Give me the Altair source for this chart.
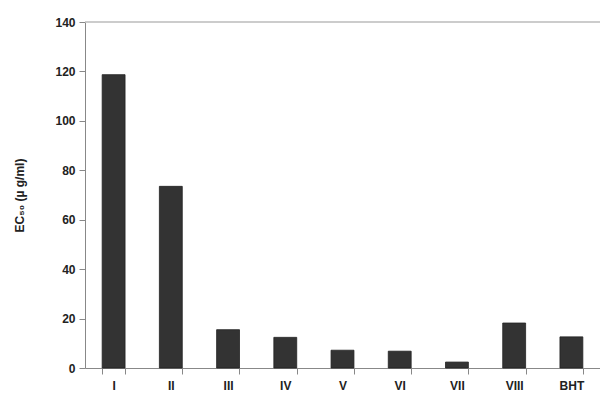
import altair as alt
import pandas as pd

compounds = ["I", "II", "III", "IV", "V", "VI", "VII", "VIII", "BHT"]
ec50 = [118.7, 73.5, 15.5, 12.4, 7.2, 6.8, 2.4, 18.2, 12.6]

df = pd.DataFrame({"compound": compounds, "ec50": ec50})

FONT = "Liberation Sans"

bars = alt.Chart(df).mark_bar(color="#333333", stroke="#222222", strokeWidth=0.8).encode(
    x=alt.X("compound:N", sort=compounds, title=None,
            scale=alt.Scale(paddingInner=0.6, paddingOuter=0.3),
            axis=alt.Axis(labelAngle=0, tickBand="extent", domainColor="#888888",
                          tickColor="#888888", tickSize=6, labelPadding=6,
                          labelFont=FONT, labelFontSize=12, labelFontWeight="bold",
                          labelColor="#222222")),
    y=alt.Y("ec50:Q", title="EC₅₀ (µ g/ml)",
            scale=alt.Scale(domain=[0, 140], nice=False),
            axis=alt.Axis(values=list(range(0, 141, 20)), grid=False, domainColor="#888888",
                          tickColor="#888888", tickSize=6, labelPadding=4,
                          labelFont=FONT, labelFontSize=12, labelFontWeight="bold",
                          labelColor="#222222", titleFont=FONT, titleFontSize=12,
                          titleFontWeight="bold", titleColor="#222222", titlePadding=28)),
)

top = alt.Chart(pd.DataFrame({"y": [140]})).mark_rule(color="#bbbbbb", strokeWidth=1.5).encode(
    y=alt.Y("y:Q", scale=alt.Scale(domain=[0, 140], nice=False))
)

chart = alt.layer(bars, top).properties(
    width=515, height=346,
    autosize=alt.AutoSizeParams(type="none"),
    padding={"left": 77, "top": 14, "right": 0, "bottom": 25},
).configure_view(stroke=None)

chart.save("out.html", embed_options={"renderer": "svg", "actions": False})
